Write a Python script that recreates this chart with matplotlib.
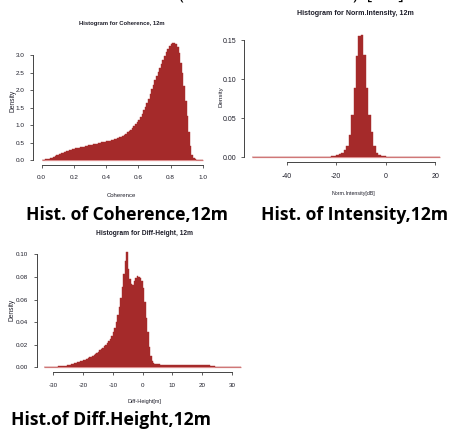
import numpy as np
import matplotlib
matplotlib.use("Agg")
import matplotlib.pyplot as plt

W, H = 454, 429
DPI = 100

BAR_COLOR = "#a52a2a"
BASE_COLOR = "#dc8c8c"
AXIS_COLOR = "#444444"
TEXT_COLOR = "#1e1e2a"
NARROW = ["Liberation Sans Narrow", "Liberation Sans", "DejaVu Sans"]
CAPTION = ["Open Sans", "Lato", "DejaVu Sans"]

# --- Coherence, bins of 0.01 from 0 to 1
coh_start, coh_width = 0.0, 0.01
coh_density = [
    0.01, 0.02, 0.03, 0.04, 0.05, 0.06, 0.08, 0.10, 0.12, 0.14,
    0.16, 0.18, 0.20, 0.22, 0.24, 0.26, 0.27, 0.29, 0.30, 0.32,
    0.33, 0.34, 0.35, 0.36, 0.37, 0.38, 0.39, 0.40, 0.41, 0.43,
    0.44, 0.45, 0.46, 0.47, 0.48, 0.49, 0.50, 0.51, 0.52, 0.53,
    0.54, 0.55, 0.56, 0.58, 0.59, 0.61, 0.62, 0.64, 0.66, 0.68,
    0.70, 0.73, 0.76, 0.80, 0.83, 0.87, 0.92, 0.97, 1.03, 1.09,
    1.15, 1.24, 1.33, 1.43, 1.53, 1.63, 1.76, 1.89, 2.02, 2.16,
    2.29, 2.41, 2.53, 2.64, 2.75, 2.86, 2.97, 3.08, 3.18, 3.26,
    3.31, 3.34, 3.33, 3.30, 3.22, 3.05, 2.78, 2.50, 2.12, 1.68,
    1.25, 0.82, 0.42, 0.15, 0.06, 0.03, 0.02, 0.01, 0.01, 0.01,
]
coh_xticks = [0.0, 0.2, 0.4, 0.6, 0.8, 1.0]
coh_yticks = [0.0, 0.5, 1.0, 1.5, 2.0, 2.5, 3.0]

# --- Norm. intensity, bins of 1 dB from -54 to 22
int_start, int_width = -54.0, 1.0
int_density = [
    0.0005, 0.0005, 0.0005, 0.0005, 0.0005, 0.0005, 0.0005, 0.0005, 0.0005, 0.0005,
    0.0005, 0.0005, 0.0005, 0.0005, 0.0005, 0.0005, 0.0005, 0.0005, 0.0005, 0.0005,
    0.0005, 0.0005, 0.0005, 0.0005, 0.0005, 0.0005, 0.0010, 0.0010, 0.0010, 0.0010,
    0.0010, 0.0010, 0.0020, 0.0020, 0.0030, 0.0040, 0.0060, 0.0090, 0.0140, 0.0290,
    0.0540, 0.0890, 0.1300, 0.1560, 0.1570, 0.1310, 0.0890, 0.0540, 0.0320, 0.0140,
    0.0060, 0.0030, 0.0020, 0.0015, 0.0010, 0.0010, 0.0010, 0.0010, 0.0010, 0.0005,
    0.0005, 0.0005, 0.0005, 0.0005, 0.0005, 0.0005, 0.0005, 0.0005, 0.0005, 0.0005,
    0.0005, 0.0005, 0.0005, 0.0005, 0.0005, 0.0005,
]
int_xticks = [-40, -20, 0, 20]
int_yticks = [0.00, 0.05, 0.10, 0.15]

# --- Diff-height, bins of 0.5 m from -33 to 33
dh_start, dh_width = -33.0, 0.5
dh_density = [
    0.0003, 0.0003, 0.0003, 0.0003, 0.0003, 0.0003,
    0.0005, 0.0006, 0.0007, 0.0008, 0.0009, 0.0010,
    0.0012, 0.0014, 0.0016, 0.0019, 0.0022, 0.0025,
    0.0028, 0.0031, 0.0035, 0.0039, 0.0043, 0.0047,
    0.0052, 0.0057, 0.0062, 0.0068, 0.0074, 0.0080,
    0.0087, 0.0094, 0.0102, 0.0110, 0.0119, 0.0128,
    0.0138, 0.0149, 0.0160, 0.0172, 0.0185, 0.0199,
    0.0214, 0.0230, 0.0250, 0.0280, 0.0310, 0.0350,
    0.0400, 0.0460, 0.0530, 0.0610, 0.0710, 0.0830,
    0.0940, 0.1020, 0.0870, 0.0780, 0.0740, 0.0730,
    0.0760, 0.0790, 0.0810, 0.0800, 0.0790, 0.0760,
    0.0700, 0.0580, 0.0440, 0.0310, 0.0180, 0.0100,
    0.0060, 0.0040, 0.0030, 0.0027, 0.0026, 0.0026,
    0.0025, 0.0025, 0.0025, 0.0025, 0.0025, 0.0025, 0.0025,
    0.0025, 0.0025, 0.0025, 0.0025, 0.0025, 0.0025, 0.0025,
    0.0025, 0.0025, 0.0025, 0.0025, 0.0025, 0.0025, 0.0025,
    0.0025, 0.0025, 0.0025, 0.0025, 0.0025, 0.0025, 0.0025,
    0.0024, 0.0023, 0.0021, 0.0019, 0.0017, 0.0015,
    0.0013, 0.0011, 0.0009, 0.0007, 0.0006, 0.0005,
    0.0004, 0.0004, 0.0004, 0.0003, 0.0003, 0.0003, 0.0003,
    0.0002, 0.0002, 0.0002, 0.0002, 0.0002, 0.0002, 0.0002,
]
dh_xticks = [-30, -20, -10, 0, 10, 20, 30]
dh_yticks = [0.00, 0.02, 0.04, 0.06, 0.08, 0.10]


def fx(x):
    return x / W


def fy(y):
    return 1 - y / H


def r_hist_panel(fig, box, xlim, ylim, start, width, density, xticks, yticks,
                 yfmt, tick_fs, ypad, xpad):
    """Draw an R-style histogram inside a pixel box (left, top, right, bottom)."""
    left, top, right, bottom = box
    ax = fig.add_axes([fx(left), fy(bottom), fx(right - left), (bottom - top) / H])
    edges = start + width * np.arange(len(density) + 1)
    ax.hlines(0, edges[0], edges[-1], color=BASE_COLOR, linewidth=0.9, zorder=1)
    ax.stairs(density, edges, fill=True, color=BAR_COLOR, linewidth=0.3,
              edgecolor=BAR_COLOR, zorder=2)
    ax.set_xlim(*xlim)
    ax.set_ylim(*ylim)
    for side in ("top", "right"):
        ax.spines[side].set_visible(False)
    for side in ("left", "bottom"):
        ax.spines[side].set_color(AXIS_COLOR)
        ax.spines[side].set_linewidth(0.7)
    ax.spines["bottom"].set_bounds(xticks[0], xticks[-1])
    ax.spines["left"].set_bounds(yticks[0], yticks[-1])
    ax.set_xticks(xticks)
    ax.set_yticks(yticks)
    ax.set_xticklabels([f"{t:g}" if isinstance(t, int) else f"{t:.1f}" for t in xticks])
    ax.set_yticklabels([yfmt.format(t) for t in yticks])
    ax.tick_params(axis="both", length=2.5, width=0.6, color=AXIS_COLOR,
                   labelsize=tick_fs, labelcolor=TEXT_COLOR)
    ax.tick_params(axis="y", pad=ypad)
    ax.tick_params(axis="x", pad=xpad)
    for lab in ax.get_xticklabels() + ax.get_yticklabels():
        lab.set_family(NARROW)
    ax.patch.set_alpha(0)
    return ax


fig = plt.figure(figsize=(W / DPI, H / DPI), dpi=DPI)
fig.patch.set_facecolor("white")

# panel 1: coherence
r_hist_panel(fig, (32.5, 38.5, 209, 165), (-0.057, 1.039), (-0.131, 3.47),
             coh_start, coh_width, coh_density, coh_xticks, coh_yticks,
             "{:.1f}", 4.6, 3.0, 5.0)
fig.text(fx(122), fy(23), "Histogram for Coherence, 12m", ha="center", va="center",
         fontsize=4.25, fontweight="bold", family=NARROW, color=TEXT_COLOR)
fig.text(fx(121), fy(195), "Coherence", ha="center", va="center",
         fontsize=4.3, family=NARROW, color=TEXT_COLOR)
fig.text(fx(13), fy(101), "Density", ha="center", va="center", rotation=90,
         fontsize=4.8, family=NARROW, color=TEXT_COLOR)

# panel 2: intensity
r_hist_panel(fig, (244, 30, 447, 162.3), (-57.3, 24.8), (-0.0064, 0.1634),
             int_start, int_width, int_density, int_xticks, int_yticks,
             "{:.2f}", 5.0, 3.0, 5.0)
fig.text(fx(355), fy(13.5), "Histogram for Norm.Intensity, 12m", ha="center",
         va="center", fontsize=5.15, fontweight="bold", family=NARROW,
         color=TEXT_COLOR)
fig.text(fx(353), fy(193), "Norm.Intensity[dB]", ha="center", va="center",
         fontsize=3.8, family=NARROW, color=TEXT_COLOR)
fig.text(fx(221), fy(97), "Density", ha="center", va="center", rotation=90,
         fontsize=4.5, family=NARROW, color=TEXT_COLOR)

# panel 3: diff-height
r_hist_panel(fig, (36.7, 247.5, 248.5, 372.3), (-35.6, 35.6), (-0.0044, 0.1060),
             dh_start, dh_width, dh_density, dh_xticks, dh_yticks,
             "{:.2f}", 4.5, 4.0, 5.0)
fig.text(fx(144), fy(233), "Histogram for Diff-Height, 12m", ha="center",
         va="center", fontsize=4.8, fontweight="bold", family=NARROW,
         color=TEXT_COLOR)
fig.text(fx(144), fy(401), "Diff-Height[m]", ha="center", va="center",
         fontsize=4.0, family=NARROW, color=TEXT_COLOR)
fig.text(fx(12), fy(310), "Density", ha="center", va="center", rotation=90,
         fontsize=4.8, family=NARROW, color=TEXT_COLOR)

# captions
fig.text(fx(127), fy(215), "Hist. of Coherence,12m", ha="center", va="center",
         fontsize=12.6, fontweight="bold", family=CAPTION, color="black")
fig.text(fx(355), fy(215), "Hist. of Intensity,12m", ha="center", va="center",
         fontsize=12.6, fontweight="bold", family=CAPTION, color="black")
fig.text(fx(111), fy(420), "Hist.of Diff.Height,12m", ha="center", va="center",
         fontsize=12.6, fontweight="bold", family=CAPTION, color="black")

# clipped remains of a line above the image
fig.text(fx(181), fy(-1), "(", ha="center", va="baseline", fontsize=12,
         family=CAPTION, color="black")
fig.text(fx(378), fy(-1), ")  [      ]", ha="center", va="baseline", fontsize=12,
         family=CAPTION, color="black")

fig.savefig("out.png", dpi=DPI, facecolor="white")
